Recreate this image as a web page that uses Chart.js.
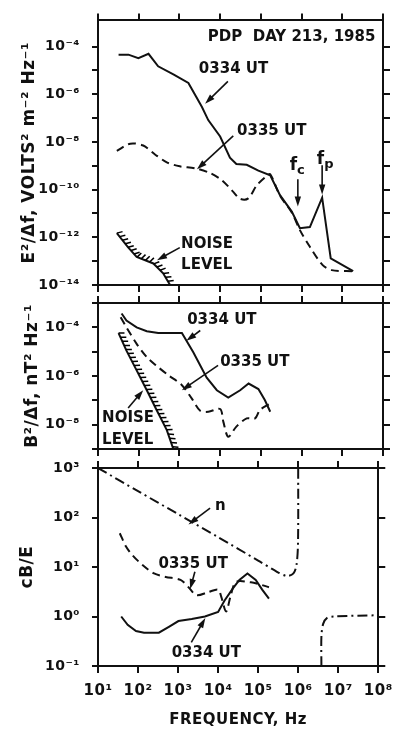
<!DOCTYPE html>
<html>
<head>
<meta charset="utf-8">
<script src="https://cdn.jsdelivr.net/npm/chart.js@4.4.1/dist/chart.umd.min.js"></script>
<style>
html, body { margin: 0; padding: 0; background: #fff; }
#wrap { position: relative; width: 401px; height: 729px; }
#wrap canvas { position: absolute; left: 0; top: 0; }
</style>
</head>
<body>
<div id="wrap">
<canvas id="panel-e" width="401" height="729"></canvas>
<canvas id="panel-b" width="401" height="729"></canvas>
<canvas id="panel-r" width="401" height="729"></canvas>
</div>
<script>
// ---- data (frequency in Hz) ----

var freqTicks = [1e1, 1e2, 1e3, 1e4, 1e5, 1e6, 1e7, 1e8];
var freqTickLabels = ['10¹', '10²', '10³', '10⁴', '10⁵', '10⁶', '10⁷', '10⁸'];

// top panel: E^2/df
var eTicks = [1e-14, 1e-13, 1e-12, 1e-11, 1e-10, 1e-9, 1e-8, 1e-7, 1e-6, 1e-5, 1e-4];
var eTickLabels = ['10⁻¹⁴', '', '10⁻¹²', '', '10⁻¹⁰', '', '10⁻⁸', '', '10⁻⁶', '', '10⁻⁴'];
var e0334Freq = [32, 56, 98, 174, 300, 710, 1660, 3550, 5100, 1.0e4, 1.74e4, 2.5e4, 4.5e4, 8.7e4, 1.7e5, 2.95e5, 5.75e5, 9.1e5, 1.6e6, 3.2e6, 5.2e6, 1.85e7];
var e0334 = [4.6e-5, 4.6e-5, 3.3e-5, 5.0e-5, 1.5e-5, 6.9e-6, 3.0e-6, 3.0e-7, 8.3e-8, 1.7e-8, 2.2e-9, 1.2e-9, 1.1e-9, 6.3e-10, 4.0e-10, 5.9e-11, 1.2e-11, 2.4e-12, 2.7e-12, 4.6e-11, 1.3e-13, 3.8e-14];
var e0335Freq = [29, 62, 129, 251, 490, 1020, 2400, 5600, 1.1e4, 2.1e4, 3.1e4, 4.9e4, 7.9e4, 1.38e5, 1.7e5, 2.95e5, 5.75e5, 9.1e5, 1.6e6, 3.3e6, 5.5e6, 1.85e7];
var e0335 = [4.2e-9, 8.5e-9, 7.1e-9, 3.0e-9, 1.4e-9, 9.5e-10, 7.9e-10, 5.0e-10, 2.5e-10, 8.1e-11, 4.1e-11, 4.3e-11, 1.5e-10, 3.7e-10, 4.4e-10, 5.6e-11, 1.1e-11, 2.0e-12, 4.0e-13, 6.8e-14, 4.2e-14, 3.8e-14];
var eNoiseFreq = [29, 55, 89, 229, 398, 589];
var eNoise = [1.5e-12, 3.8e-13, 1.5e-13, 8.0e-14, 3.1e-14, 1.0e-14];

// middle panel: B^2/df
var bTicks = [1e-9, 1e-8, 1e-7, 1e-6, 1e-5, 1e-4, 1e-3];
var bTickLabels = ['', '10⁻⁸', '', '10⁻⁶', '', '10⁻⁴', ''];
var b0334Freq = [38, 50, 89, 158, 302, 1150, 2190, 4680, 8300, 1.58e4, 3.1e4, 5.0e4, 8.7e4, 1.26e5, 1.7e5];
var b0334 = [3.7e-4, 1.9e-4, 1.0e-4, 6.9e-5, 5.9e-5, 5.9e-5, 9.5e-6, 8.5e-7, 2.6e-7, 1.3e-7, 2.6e-7, 4.9e-7, 2.9e-7, 1.0e-7, 3.4e-8];
var b0335Freq = [36, 50, 89, 158, 275, 537, 1150, 2000, 3240, 5130, 1.0e4, 1.2e4, 1.58e4, 2.5e4, 4.5e4, 7.2e4, 9.5e4, 1.7e5];
var b0335 = [2.6e-4, 1.0e-4, 2.1e-5, 6.0e-6, 2.6e-6, 1.07e-6, 4.2e-7, 1.2e-7, 3.7e-8, 3.4e-8, 4.4e-8, 1.3e-8, 3.2e-9, 8.3e-9, 1.8e-8, 1.8e-8, 4.0e-8, 7.4e-8];
var bNoiseFreq = [32, 50, 89, 158, 275, 490, 708];
var bNoise = [5.8e-5, 1.1e-5, 1.7e-6, 2.6e-7, 4.0e-8, 6.0e-9, 1.0e-9];

// bottom panel: cB/E and refractive index n
var rTicks = [1e-1, 1, 10, 100, 1000];
var rTickLabels = ['10⁻¹', '10⁰', '10¹', '10²', '10³'];
var r0334Freq = [38, 55, 89, 141, 331, 589, 1020, 2190, 4680, 1.0e4, 1.45e4, 2.34e4, 3.4e4, 5.4e4, 8.7e4, 1.26e5, 1.86e5];
var r0334 = [1.0, 0.68, 0.51, 0.47, 0.47, 0.62, 0.81, 0.89, 1.0, 1.23, 2.1, 3.7, 5.5, 7.4, 5.5, 3.5, 2.3];
var r0335Freq = [35, 50, 74, 129, 251, 490, 1150, 1820, 2880, 5620, 1.0e4, 1.2e4, 1.58e4, 2.1e4, 2.8e4, 6.6e4, 1.15e5, 1.86e5];
var r0335 = [48, 26, 17, 11, 7.4, 6.3, 5.5, 3.9, 2.7, 3.1, 3.5, 2.5, 1.26, 2.8, 5.0, 4.9, 4.4, 3.9];
var nLowFreq = [10, 100, 1000, 1.0e4, 1.0e5, 2.95e5, 5.25e5, 7.6e5, 9.1e5, 9.9e5, 1.0e6];
var nLow = [1000, 340, 117, 40, 13.5, 8.0, 6.6, 7.4, 11.2, 32, 1000];
var nHighFreq = [3.8e6, 3.8e6, 4.2e6, 5.2e6, 7.9e6, 1.0e8];
var nHigh = [0.1, 0.4, 0.71, 0.93, 1.0, 1.06];

// ---- drawing ----

var FONT = "'DejaVu Sans', sans-serif";
var INK = '#111';

function pts(fs, vs) {
    return fs.map(function (f, i) { return { x: f, y: vs[i] }; });
}

function line(fs, vs, style) {
    var dash = [];
    if (style === 'dash') dash = [8, 5];
    if (style === 'dashdot') dash = [10, 4, 2, 4];
    return {
        data: pts(fs, vs),
        borderColor: INK,
        borderWidth: 2,
        borderDash: dash,
        pointRadius: 0,
        tension: style === 'solid' ? 0 : 0.3,
        fill: false
    };
}

function freqAxis(position, showLabels, height) {
    return {
        type: 'logarithmic',
        position: position,
        min: 10,
        max: 1e8,
        afterBuildTicks: function (s) { s.ticks = freqTicks.map(function (v) { return { value: v }; }); },
        afterFit: function (s) { s.height = height; },
        ticks: {
            display: showLabels, autoSkip: false, maxRotation: 0, padding: 9, color: INK,
            font: { family: FONT, size: 15, weight: 'bold' },
            callback: function (v, i) { return freqTickLabels[i]; }
        },
        grid: { drawOnChartArea: false, tickLength: 7, color: INK, lineWidth: 2 },
        border: { color: INK, width: 2 },
        title: showLabels ? {
            display: true, text: 'FREQUENCY, Hz', color: INK,
            font: { family: FONT, size: 15, weight: 'bold' }, padding: { top: 0, bottom: 0 }
        } : { display: false }
    };
}

function valueAxis(position, min, max, ticks, labels, title, titlePad) {
    var right = position === 'right';
    return {
        type: 'logarithmic',
        position: position,
        min: min,
        max: max,
        afterBuildTicks: function (s) { s.ticks = ticks.map(function (v) { return { value: v }; }); },
        afterFit: function (s) { s.width = right ? 14 : 98; },
        ticks: {
            display: !right, autoSkip: false, padding: 12, color: INK,
            font: { family: FONT, size: 14, weight: 'bold' },
            callback: function (v, i) { return labels[i]; }
        },
        grid: { drawOnChartArea: false, tickLength: right ? 7 : 6, color: INK, lineWidth: 2 },
        border: { color: INK, width: 2 },
        title: right ? { display: false } : {
            display: true, text: title, color: INK,
            font: { family: FONT, size: 17, weight: 'bold' }, padding: { top: titlePad, bottom: 0 }
        }
    };
}

function drawArrow(ctx, x1, y1, x2, y2) {
    var a = Math.atan2(y2 - y1, x2 - x1), len = 10, half = 3.2;
    var c = Math.cos(a), s = Math.sin(a);
    ctx.beginPath();
    ctx.moveTo(x1, y1);
    ctx.lineTo(x2 - c * len * 0.8, y2 - s * len * 0.8);
    ctx.stroke();
    ctx.beginPath();
    ctx.moveTo(x2, y2);
    ctx.lineTo(x2 - len * c + half * s, y2 - len * s - half * c);
    ctx.lineTo(x2 - len * c - half * s, y2 - len * s + half * c);
    ctx.closePath();
    ctx.fill();
}

function drawHatch(ctx, chart, idx) {
    var p = chart.getDatasetMeta(idx).data, step = 4.5, len = 6, carry = 0;
    var area = chart.chartArea;
    ctx.save();
    ctx.beginPath();
    ctx.rect(area.left, area.top, area.right - area.left, area.bottom - area.top);
    ctx.clip();
    ctx.lineWidth = 1.5;
    for (var i = 1; i < p.length; i++) {
        var dx = p[i].x - p[i - 1].x, dy = p[i].y - p[i - 1].y;
        var d = Math.sqrt(dx * dx + dy * dy), ux = dx / d, uy = dy / d;
        for (var t = carry; t < d; t += step) {
            var hx = p[i - 1].x + ux * t, hy = p[i - 1].y + uy * t;
            ctx.beginPath();
            ctx.moveTo(hx, hy);
            ctx.lineTo(hx + (uy * 0.9 + ux * 0.4) * len, hy + (-ux * 0.9 + uy * 0.4) * len);
            ctx.stroke();
            carry = t + step - d;
        }
    }
    ctx.restore();
}

var notesPlugin = {
    id: 'notes',
    beforeDraw: function (chart) {
        chart.ctx.letterSpacing = '0.5px';
    },
    afterDatasetsDraw: function (chart, args, opts) {
        var ctx = chart.ctx, xs = chart.scales.x, ys = chart.scales.y;
        ctx.save();
        ctx.fillStyle = INK;
        ctx.strokeStyle = INK;
        ctx.lineWidth = 1.6;
        ctx.letterSpacing = '0px';
        ctx.textBaseline = 'middle';
        ctx.textAlign = 'left';
        (opts.labels || []).forEach(function (lab) {
            var px = xs.getPixelForValue(lab.at[0]), py = ys.getPixelForValue(lab.at[1]);
            var size = lab.size || 15;
            ctx.font = 'bold ' + size + 'px ' + FONT;
            var w = ctx.measureText(lab.text).width, sw = 0;
            if (lab.sub) {
                ctx.font = 'bold 13px ' + FONT;
                sw = ctx.measureText(lab.sub).width;
            }
            var x0 = px;
            if (lab.align === 'right') x0 = px - w - sw;
            if (lab.align === 'center') x0 = px - (w + sw) / 2;
            ctx.font = 'bold ' + size + 'px ' + FONT;
            ctx.fillText(lab.text, x0, py);
            if (lab.sub) {
                ctx.font = 'bold 13px ' + FONT;
                ctx.fillText(lab.sub, x0 + w, py + 5);
            }
        });
        (opts.arrows || []).forEach(function (a) {
            drawArrow(ctx, xs.getPixelForValue(a[0]), ys.getPixelForValue(a[1]),
                xs.getPixelForValue(a[2]), ys.getPixelForValue(a[3]));
        });
        ctx.restore();
        if (opts.hatch !== undefined) drawHatch(ctx, chart, opts.hatch);
    }
};

function panelOptions(top, bottom, xHeight, yAxis, yRight, notes) {
    return {
        responsive: false,
        animation: false,
        devicePixelRatio: 1,
        events: [],
        layout: { padding: { top: top, bottom: bottom, left: 0, right: 4 } },
        plugins: { legend: { display: false }, tooltip: { enabled: false }, notes: notes },
        scales: {
            x: freqAxis('bottom', xHeight > 12, xHeight),
            xTop: freqAxis('top', false, 12),
            y: yAxis,
            yRight: yRight
        }
    };
}

// top panel
new Chart(document.getElementById('panel-e'), {
    type: 'line',
    data: { datasets: [
        line(e0334Freq, e0334, 'solid'),
        line(e0335Freq, e0335, 'dash'),
        line(eNoiseFreq, eNoise, 'solid')
    ] },
    options: panelOptions(3, 432, 12,
        valueAxis('left', 1e-14, 1.26e-3, eTicks, eTickLabels, 'E²/Δf, VOLTS² m⁻² Hz⁻¹', 19),
        valueAxis('right', 1e-14, 1.26e-3, eTicks, eTickLabels),
        {
            labels: [
                { text: 'PDP  DAY 213, 1985', at: [6.5e7, 2.5e-4], align: 'right' },
                { text: '0334 UT', at: [3000, 1.1e-5] },
                { text: '0335 UT', at: [2.6e4, 2.9e-8] },
                { text: 'f', sub: 'c', at: [7.8e5, 1.05e-9], align: 'center', size: 17 },
                { text: 'f', sub: 'p', at: [3.8e6, 1.9e-9], align: 'center', size: 17 },
                { text: 'NOISE', at: [1100, 5.4e-13] },
                { text: 'LEVEL', at: [1100, 6.8e-14] }
            ],
            arrows: [
                [1.55e4, 3.5e-6, 4270, 4.0e-7],
                [2.1e4, 1.8e-8, 2700, 7.1e-10],
                [8.1e5, 2.75e-10, 8.1e5, 1.95e-11],
                [3.2e6, 1.05e-9, 3.2e6, 6.2e-11],
                [1020, 3.7e-13, 282, 1.1e-13]
            ],
            hatch: 2
        }),
    plugins: [notesPlugin]
});

// middle panel
new Chart(document.getElementById('panel-b'), {
    type: 'line',
    data: { datasets: [
        line(b0334Freq, b0334, 'solid'),
        line(b0335Freq, b0335, 'dash'),
        line(bNoiseFreq, bNoise, 'solid')
    ] },
    options: panelOptions(291, 268, 12,
        valueAxis('left', 1e-9, 1e-3, bTicks, bTickLabels, 'B²/Δf, nT² Hz⁻¹', 22),
        valueAxis('right', 1e-9, 1e-3, bTicks, bTickLabels),
        {
            labels: [
                { text: '0334 UT', at: [1550, 1.9e-4] },
                { text: '0335 UT', at: [1.0e4, 3.6e-6] },
                { text: 'NOISE', at: [12.6, 1.9e-8] },
                { text: 'LEVEL', at: [12.6, 2.3e-9] }
            ],
            arrows: [
                [3240, 7.4e-5, 1480, 2.8e-5],
                [8900, 2.75e-6, 1150, 2.6e-7],
                [55, 4.8e-8, 129, 2.6e-7]
            ],
            hatch: 2
        }),
    plugins: [notesPlugin]
});

// bottom panel
new Chart(document.getElementById('panel-r'), {
    type: 'line',
    data: { datasets: [
        line(r0334Freq, r0334, 'solid'),
        line(r0335Freq, r0335, 'dash'),
        line(nLowFreq, nLow, 'dashdot'),
        line(nHighFreq, nHigh, 'dashdot')
    ] },
    options: panelOptions(456, 0, 63,
        valueAxis('left', 0.1, 1000, rTicks, rTickLabels, 'cB/E', 17),
        valueAxis('right', 0.1, 1000, rTicks, rTickLabels),
        {
            labels: [
                { text: 'n', at: [8300, 166] },
                { text: '0335 UT', at: [324, 11.7] },
                { text: '0334 UT', at: [690, 0.18] }
            ],
            arrows: [
                [6300, 155, 1820, 72],
                [2630, 8.0, 2000, 3.6],
                [2140, 0.30, 4790, 0.93]
            ]
        }),
    plugins: [notesPlugin]
});
</script>
</body>
</html>
